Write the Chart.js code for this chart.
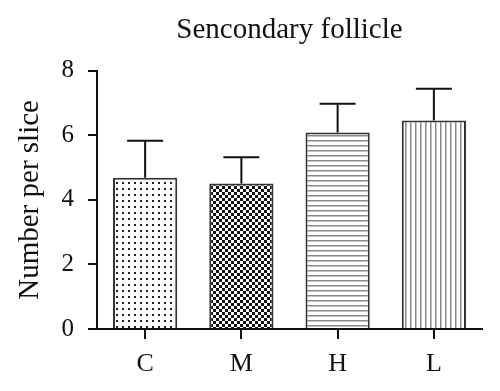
<!DOCTYPE html>
<html>
<head>
<meta charset="utf-8">
<script src="https://cdn.jsdelivr.net/npm/chart.js@4.4.0/dist/chart.umd.min.js"></script>
<style>
  html, body { margin: 0; padding: 0; background: #fff; }
  #wrap { width: 500px; height: 391px; }
</style>
</head>
<body>
<div id="wrap"><canvas id="chart"></canvas></div>
<script>
const groups = ['C', 'M', 'H', 'L'];
const means = [4.69, 4.51, 6.09, 6.46];
const sds = [1.14, 0.81, 0.89, 0.98];
const yTicks = [0, 2, 4, 6, 8];

const SERIF = '"Liberation Serif", "DejaVu Serif", serif';

function makePattern(kind) {
    const c = document.createElement('canvas');
    const g = c.getContext('2d');
    if (kind === 'dots') {
        c.width = 6; c.height = 6;
        g.fillStyle = '#fff'; g.fillRect(0, 0, 6, 6);
        g.fillStyle = '#222'; g.fillRect(2, 2, 2, 2);
    } else if (kind === 'checker') {
        c.width = 6; c.height = 6;
        g.fillStyle = '#fff'; g.fillRect(0, 0, 6, 6);
        g.fillStyle = '#111';
        g.fillRect(0, 0, 3, 3);
        g.fillRect(3, 3, 3, 3);
    } else if (kind === 'hlines') {
        c.width = 6; c.height = 5;
        g.fillStyle = '#fff'; g.fillRect(0, 0, 6, 5);
        g.fillStyle = '#888'; g.fillRect(0, 0, 6, 1.5);
    } else {
        c.width = 5; c.height = 6;
        g.fillStyle = '#fff'; g.fillRect(0, 0, 5, 6);
        g.fillStyle = '#888'; g.fillRect(0, 0, 1.5, 6);
    }
    return g.createPattern(c, 'repeat');
}

const fills = ['dots', 'checker', 'hlines', 'vlines'].map(makePattern);

// upward error bars with caps
const errorBars = {
    id: 'errorBars',
    afterDatasetsDraw(chart) {
        const ctx = chart.ctx;
        const meta = chart.getDatasetMeta(0);
        const y = chart.scales.y;
        ctx.save();
        ctx.strokeStyle = '#111';
        ctx.lineWidth = 2;
        meta.data.forEach(function(bar, i) {
            const top = y.getPixelForValue(means[i] + sds[i]);
            const base = y.getPixelForValue(means[i]);
            ctx.beginPath();
            ctx.moveTo(bar.x, base);
            ctx.lineTo(bar.x, top);
            ctx.moveTo(bar.x - 18, top);
            ctx.lineTo(bar.x + 18, top);
            ctx.stroke();
        });
        ctx.restore();
    }
};

new Chart(document.getElementById('chart'), {
    type: 'bar',
    data: {
        labels: groups,
        datasets: [{
            data: means,
            backgroundColor: fills,
            borderColor: '#333',
            borderWidth: 2,
            barPercentage: 0.667,
            categoryPercentage: 1.0
        }]
    },
    options: {
        responsive: true,
        maintainAspectRatio: false,
        animation: false,
        layout: { padding: { left: 0, right: 18, top: 0, bottom: 0 } },
        plugins: {
            legend: { display: false },
            tooltip: { enabled: false },
            title: {
                display: true,
                fullSize: false,
                text: 'Sencondary follicle',
                color: '#111',
                font: { family: SERIF, size: 29, weight: 'normal' },
                padding: { top: 13, bottom: 23 }
            }
        },
        scales: {
            x: {
                grid: { offset: false, drawOnChartArea: false, drawTicks: true, tickLength: 10, color: '#111', lineWidth: 2 },
                border: { display: true, color: '#111', width: 2 },
                ticks: { color: '#111', padding: 10, font: { family: SERIF, size: 26 } },
                afterFit: function(scale) { scale.height = 62; }
            },
            y: {
                min: 0,
                max: 8,
                afterBuildTicks: function(scale) { scale.ticks = yTicks.map(v => ({ value: v })); },
                grid: { drawOnChartArea: false, drawTicks: true, tickLength: 9, color: '#111', lineWidth: 2 },
                border: { display: true, color: '#111', width: 2 },
                ticks: { color: '#111', padding: 14, font: { family: SERIF, size: 25 } },
                title: {
                    display: true,
                    text: 'Number per slice',
                    color: '#111',
                    font: { family: SERIF, size: 29 },
                    padding: { top: 13, bottom: 0 }
                },
                afterFit: function(scale) { scale.width = 97; }
            }
        }
    },
    plugins: [errorBars]
});
</script>
</body>
</html>
